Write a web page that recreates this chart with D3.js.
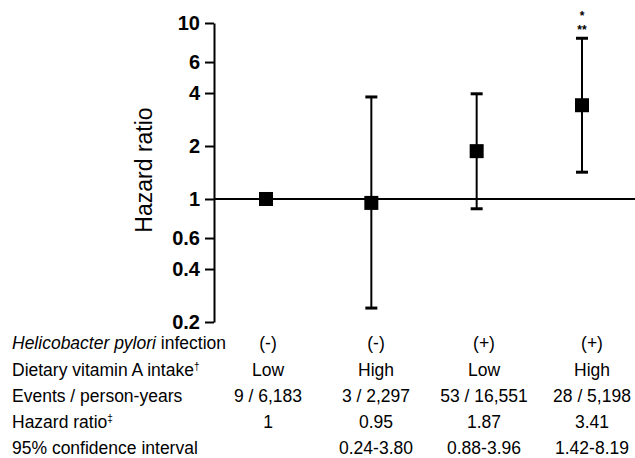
<!DOCTYPE html>
<html>
<head>
<meta charset="utf-8">
<script src="https://cdn.jsdelivr.net/npm/d3@7"></script>
<style>
  body { margin: 0; background: #fff; }
  svg { display: block; font-family: "Liberation Sans", Arial, sans-serif; }
</style>
</head>
<body>
<svg id="chart" width="635" height="458"></svg>
<script>
// data
const groups = ['A', 'B', 'C', 'D'];
const infection = ['(-)', '(-)', '(+)', '(+)'];
const vitaminA = ['Low', 'High', 'Low', 'High'];
const events = ['9 / 6,183', '3 / 2,297', '53 / 16,551', '28 / 5,198'];
const hazard = [1, 0.95, 1.87, 3.41];
const ciLow = [null, 0.24, 0.88, 1.42];
const ciHigh = [null, 3.80, 3.96, 8.19];
const ciText = ['', '0.24-3.80', '0.88-3.96', '1.42-8.19'];
const yTicks = [0.2, 0.4, 0.6, 1, 2, 4, 6, 10];

const svg = d3.select('#chart');

const axisX = 214;
const x = d3.scalePoint().domain(groups).range([266, 582]);
const xTable = d3.scalePoint().domain(groups).range([268, 592]);
const y = d3.scaleLog().domain([0.2, 10]).range([322, 23]);

// reference line at HR = 1
svg.append('line')
    .attr('x1', axisX).attr('x2', 635)
    .attr('y1', y(1)).attr('y2', y(1))
    .attr('stroke', '#000').attr('stroke-width', 2);

// y axis
const yAxis = d3.axisLeft(y)
    .tickValues(yTicks)
    .tickFormat(d => String(d))
    .tickSize(9)
    .tickSizeOuter(0)
    .tickPadding(5);

const gAxis = svg.append('g')
    .attr('transform', `translate(${axisX},0)`)
    .call(yAxis);
gAxis.select('.domain').attr('stroke-width', 2);
gAxis.selectAll('.tick line').attr('stroke-width', 2);
gAxis.selectAll('.tick text')
    .attr('font-size', 20)
    .attr('font-weight', 'bold')
    .attr('font-family', '"Liberation Sans", Arial, sans-serif')
    .attr('fill', '#000');

svg.append('text')
    .attr('transform', 'translate(152,170) rotate(-90)')
    .attr('text-anchor', 'middle')
    .attr('font-size', 23)
    .text('Hazard ratio');

// error bars
const capW = 6;
groups.forEach((g, i) => {
    if (ciLow[i] == null) return;
    const cx = x(g);
    svg.append('line')
        .attr('x1', cx).attr('x2', cx)
        .attr('y1', y(ciLow[i])).attr('y2', y(ciHigh[i]))
        .attr('stroke', '#000').attr('stroke-width', 2);
    [ciLow[i], ciHigh[i]].forEach(v => {
        svg.append('line')
            .attr('x1', cx - capW).attr('x2', cx + capW)
            .attr('y1', y(v)).attr('y2', y(v))
            .attr('stroke', '#000').attr('stroke-width', 3);
    });
});

// point estimates
const sq = 14;
svg.selectAll('rect.pt')
    .data(groups)
    .join('rect')
    .attr('class', 'pt')
    .attr('x', d => x(d) - sq / 2)
    .attr('y', (d, i) => y(hazard[i]) - sq / 2)
    .attr('width', sq)
    .attr('height', sq)
    .attr('fill', '#000');

// significance marks
const stars = svg.append('g')
    .attr('text-anchor', 'middle')
    .attr('font-size', 12).attr('font-weight', 'bold');
stars.append('text').attr('x', x('D')).attr('y', 20).text('*');
stars.append('text').attr('x', x('D')).attr('y', 34).text('**');

// table below
const rowY = [343, 370, 396, 422, 448];
const fs = 17.5;

const lab = svg.append('g').attr('font-size', fs);

const r0 = lab.append('text').attr('x', 12).attr('y', rowY[0]).attr('dy', '0.35em');
r0.append('tspan').attr('font-style', 'italic').text('Helicobacter pylori');
r0.append('tspan').text(' infection');

const r1 = lab.append('text').attr('x', 12).attr('y', rowY[1]).attr('dy', '0.35em');
r1.append('tspan').text('Dietary vitamin A intake');
r1.append('tspan').attr('font-size', 10).attr('dy', '-0.6em').text('\u2020');

lab.append('text').attr('x', 12).attr('y', rowY[2]).attr('dy', '0.35em')
    .text('Events / person-years');

const r3 = lab.append('text').attr('x', 12).attr('y', rowY[3]).attr('dy', '0.35em');
r3.append('tspan').text('Hazard ratio');
r3.append('tspan').attr('font-size', 10).attr('dy', '-0.6em').text('\u2021');

lab.append('text').attr('x', 12).attr('y', rowY[4]).attr('dy', '0.35em')
    .text('95% confidence interval');

const rows = [infection, vitaminA, events, hazard.map(String), ciText];
rows.forEach((vals, r) => {
    lab.selectAll(null)
        .data(groups)
        .join('text')
        .attr('x', d => xTable(d))
        .attr('y', rowY[r])
        .attr('dy', '0.35em')
        .attr('text-anchor', 'middle')
        .text((d, i) => vals[i]);
});
</script>
</body>
</html>
